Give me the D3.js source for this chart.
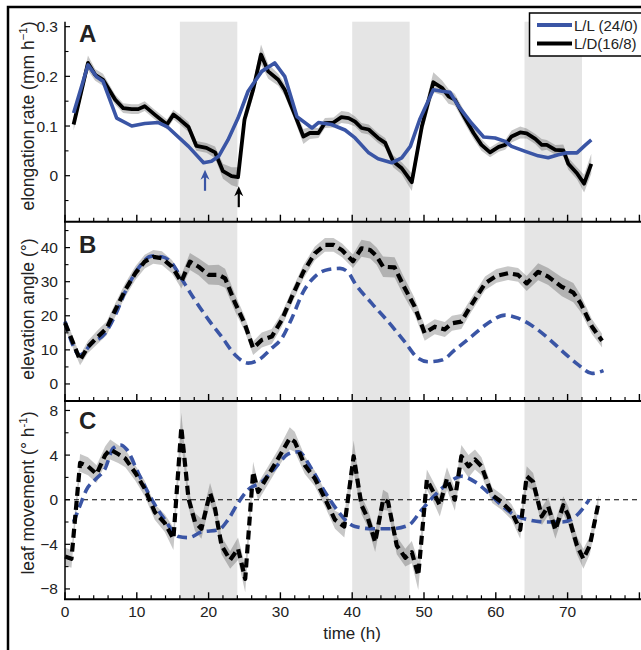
<!DOCTYPE html>
<html><head><meta charset="utf-8">
<script src="https://cdn.jsdelivr.net/npm/d3@7"></script>
<style>body{margin:0;background:#fff}svg{display:block;font-family:"Liberation Sans",Arial,Helvetica,sans-serif}</style>
</head><body><svg id="c" width="641" height="650"></svg>
<script>
// ---- data ----
const darkPeriods = [[16,24],[40,48],[64,72]];
const xTickLabels = [0,10,20,30,40,50,60,70];
const seriesNames = ["L/L (24/0)","L/D(16/8)"];

// Panel A: elongation rate (mm h-1)
const ldTimeA = [1.2,3.2,4.2,5.3,7,8.1,9.3,10.2,11.1,12.5,14.2,15.1,16,17.2,18.3,19.7,20.9,22,23.2,24.1,25,26.2,27.3,28.3,29.7,30.6,32,33.2,34.1,35.3,36.2,37.4,38.5,39.5,40.4,41.3,42.3,43.6,44.6,45.7,46.9,48.3,49.7,51.3,52.5,53.4,54.3,55.7,56.9,58,59.2,60.4,61.3,62.2,63.4,64.3,65.5,66.4,67.1,68.3,69.4,70.1,71.3,72.3,73.3];
const ldRateA = [0.103,0.227,0.203,0.193,0.153,0.136,0.134,0.134,0.14,0.123,0.103,0.123,0.113,0.098,0.06,0.056,0.047,0.009,-0.001,-0.003,0.113,0.173,0.244,0.21,0.193,0.173,0.123,0.079,0.086,0.086,0.106,0.107,0.118,0.116,0.109,0.096,0.093,0.076,0.066,0.029,0.015,-0.013,0.099,0.188,0.177,0.16,0.153,0.116,0.086,0.062,0.047,0.058,0.062,0.079,0.087,0.085,0.074,0.062,0.062,0.052,0.051,0.024,0.005,-0.016,0.024];
const ldErrA = [0.012,0.015,0.012,0.012,0.01,0.01,0.01,0.01,0.01,0.01,0.01,0.01,0.01,0.01,0.01,0.01,0.012,0.015,0.018,0.02,0.015,0.015,0.02,0.015,0.012,0.012,0.012,0.015,0.012,0.01,0.01,0.01,0.012,0.012,0.01,0.01,0.01,0.01,0.01,0.012,0.012,0.018,0.015,0.02,0.015,0.015,0.012,0.012,0.012,0.012,0.01,0.01,0.01,0.012,0.012,0.01,0.01,0.012,0.01,0.01,0.012,0.012,0.012,0.018,0.02];
const llTimeA = [1.2,3.2,4.4,5.3,7.2,9.3,11.1,13,14.2,17.2,19.3,20.4,21.4,22.7,24.1,25.5,27.4,29.2,30.6,32.3,34.4,35.3,37.1,39,40.4,42.3,43.6,45.5,46.9,48.1,49.4,51.3,52.5,53.6,54.8,56.6,58.3,59.9,61.3,62.2,64.1,65.9,67.3,68.7,69.9,71.3,72.5,73.3];
const llRateA = [0.126,0.223,0.199,0.19,0.116,0.1,0.105,0.107,0.099,0.059,0.026,0.029,0.039,0.072,0.116,0.17,0.21,0.227,0.2,0.119,0.096,0.107,0.103,0.092,0.076,0.046,0.034,0.026,0.036,0.059,0.113,0.173,0.17,0.168,0.14,0.106,0.078,0.076,0.069,0.059,0.049,0.04,0.036,0.042,0.046,0.046,0.062,0.072];
const minimaA = [{t:19.5, v:0.026, series:0},{t:24.2, v:-0.003, series:1}];

// Panel B: elevation angle (deg)
const ldTimeB = [0,2.1,3.2,4.6,5.8,7,8.4,9.8,11.1,12.3,13.5,14.9,16.2,17.4,18.6,20,21.4,22.3,23.7,25,26.2,27.4,28.8,30.2,31.6,33.2,34.8,36.2,37.4,38.6,40.1,41.3,42.5,43.4,44.3,45.9,47.1,48.7,50.1,51.5,52.9,53.9,55.2,56.6,58.5,60.1,61.7,63.1,64.3,65.9,67.3,69.2,70.8,71.8,73.4,74.8];
const ldAngleB = [17.9,7.0,10.9,13.9,16.3,21.7,27.6,32.5,35.9,37.3,36.9,34.4,30.0,35.9,34.4,32,32,31,23.7,17.8,10.5,12.9,13.9,18.8,25.6,32.9,38.3,40.8,40.8,39.2,36.0,39.8,39.3,37.5,34.4,34.2,29,22.7,14.9,16.8,16.0,17.8,18.3,23.2,29.5,31.7,32.5,32,29.5,32.9,31.5,28.5,26.8,23.7,16.8,12.7];
const ldErrB = [1.8,1.5,1.8,2,2,2,2,2,2,2,2,2,2,2.5,2.5,2.8,3,2.8,2.5,2.2,2,2.2,2.2,2,2,2,2,2,2,2,2,2.5,2.5,2.5,3,3,2.8,2.5,2.2,2.2,2.2,2.2,2.2,2,2,2,2,2,2.2,2.5,2.5,2.8,2.8,2.5,2.2,2];
const llTimeB = [0,2.1,3.7,5.6,7,8.4,10.2,12.1,13.5,14.9,16.2,18.1,20,21.8,23.7,25.5,26.9,28.8,30.2,31.6,33.2,34.8,36.7,38.3,39.5,40.4,42.7,45,47.3,49.2,50.6,52.5,54.3,56.6,58.9,61.3,63.1,64.9,67.3,69.6,71.5,73.4,75];
const llAngleB = [18.3,8.5,11.9,14.9,20.2,27.1,33.9,37.5,37.3,35.4,31,24.6,18.8,13.9,8.5,6.1,7.0,10.5,13.4,19.3,27.1,31.5,33.6,33.9,32.6,29.5,23.7,18.3,12.4,7.5,6.5,7.0,10,13.9,17.8,20.2,19.3,17.3,13.4,9.0,5.6,3.1,3.9];

// Panel C: leaf movement (deg h-1)
const ldTimeC = [0,0.9,2.1,3.2,4.4,5.6,6.3,7.4,8.4,9.8,11.1,12.5,13.9,15.1,16.2,17.2,18.1,19,20.2,20.9,21.8,23,24.1,25.1,26.2,26.9,28.3,29.7,31.3,32,33.4,34.8,36.2,37.6,38.9,40.2,41.3,42.2,43.2,44.3,45,46.2,47.4,48.3,49.2,50.4,51.3,52.2,53.2,54.3,55.2,56.2,57.1,58,59.5,60.8,62.2,63.4,64.3,65.2,66.4,67.3,68.3,69.4,70.1,71.3,72.2,73.1,74.3];
const ldMoveC = [-5.1,-5.3,3.3,3.0,2.3,4.0,4.5,4.1,3.7,2.4,1.0,-1.1,-2.1,-3.5,6.5,0.1,-2.0,-2.6,0.6,-0.8,-4.1,-5.4,-4.4,-7.1,2.5,0.7,2.2,3.7,5.5,5.2,3.1,1.9,0.1,-1.8,-2.4,3.9,-0.5,-1.7,-3.8,0,-0.2,-4.1,-5.2,-4.7,-6.8,1.8,0.7,-0.5,1.9,0,3.9,3.0,3.6,3.0,0.4,-0.2,-1.1,-2.7,2.1,1.6,-1.5,-0.6,-2.7,-0.5,-1.4,-4.1,-5.3,-4.1,-0.3];
const ldErrC = [0.8,0.8,0.8,0.8,0.8,0.8,0.9,0.8,0.8,0.7,0.7,0.7,0.8,1.0,1.3,0.8,0.8,0.9,0.9,0.8,0.8,0.8,1.0,1.2,0.9,0.8,0.8,0.8,1.0,0.9,0.8,0.7,0.7,0.8,1.0,1.4,0.8,0.8,0.9,0.9,0.8,0.8,0.8,1.0,1.3,0.9,0.9,1.0,1.0,1.0,1.0,1.0,0.9,0.8,0.7,0.7,0.7,0.8,0.9,0.8,0.8,0.8,0.8,0.8,0.8,0.8,0.9,0.8,0.7];
const llTimeC = [1.2,2.1,3,4.2,5.6,6.7,7.7,8.6,10.2,12.1,13.9,15.8,17.2,19,21.4,22.7,24.1,25.5,27.4,29.2,31.1,32.5,34.4,36.2,38.1,39.5,40.4,42.7,45.5,47.8,49.7,51.5,53.4,55.2,57.1,59,60.8,62.7,64.5,66.9,69.2,71.1,73];
const llMoveC = [-2.0,-0.5,0.9,1.8,2.8,4.6,4.9,4.5,2.4,0,-1.8,-3.3,-3.4,-2.9,-2.7,-1.8,-0.3,0.9,1.6,2.8,4.1,4.3,2.7,0.7,-1.1,-2.1,-2.4,-2.6,-2.6,-2.3,-0.9,0.4,1.5,2.1,1.6,0.6,-0.5,-1.4,-1.8,-2.0,-2.0,-1.5,0];

// ---- drawing ----
const svg = d3.select("#c");
const BLUE = "#3a55a5", SHADE = "#e5e5e5", BAND = "rgba(0,0,0,0.22)", TXT = "#222";
const x = d3.scaleLinear().domain([0,80]).range([65,639.4]);
const panels = [
  {key:"A", y:d3.scaleLinear().domain([-0.0926,0.31]).range([221.7,21.7]), major:[0,0.1,0.2,0.3], minor:[-0.05,0.05,0.15,0.25], fmt:d=>d===0?"0":d3.format(".1f")(d)},
  {key:"B", y:d3.scaleLinear().domain([-5,47.6]).range([401,221.7]), major:[0,10,20,30,40], minor:[5,15,25,35,45], fmt:d=>String(d)},
  {key:"C", y:d3.scaleLinear().domain([-8.93,8.85]).range([599.3,401]), major:[-8,-4,0,4,8], minor:[-6,-2,2,6], fmt:d=>d<0?"\u2212"+Math.abs(d):String(d)}
];

// shading
panels.forEach(p=>{
  const [y0,y1] = p.y.range();
  svg.append("g").selectAll("rect").data(darkPeriods).join("rect")
    .attr("x",d=>x(d[0])).attr("width",d=>x(d[1])-x(d[0]))
    .attr("y",y1).attr("height",y0-y1).attr("fill",SHADE);
});

function zip(ts, vs, es){ return ts.map((t,i)=>({t, v:vs[i], e: es? es[i]:0})); }
function band(p, data){
  svg.append("path").datum(data)
    .attr("d", d3.area().x(d=>x(d.t)).y0(d=>p.y(d.v-d.e)).y1(d=>p.y(d.v+d.e)))
    .attr("fill",BAND);
}
function line(p, data, color, width, dash, curve){
  svg.append("path").datum(data)
    .attr("d", d3.line().x(d=>x(d.t)).y(d=>p.y(d.v)).curve(curve||d3.curveLinear))
    .attr("fill","none").attr("stroke",color).attr("stroke-width",width)
    .attr("stroke-dasharray",dash||null).attr("stroke-linejoin","round");
}

// Panel A
const [pA,pB,pC] = panels;
band(pA, zip(ldTimeA, ldRateA, ldErrA));
line(pA, zip(ldTimeA, ldRateA), "#000", 3.8);
line(pA, zip(llTimeA, llRateA), BLUE, 3.6);

// arrows
minimaA.forEach(m=>{
  const cx = x(m.t), color = m.series===0?BLUE:"#000";
  const tip = m.series===0 ? pA.y(m.v)+7 : pA.y(m.v)+9;
  const g = svg.append("g");
  g.append("line").attr("x1",cx).attr("x2",cx).attr("y1",tip+4).attr("y2",tip+21)
    .attr("stroke",color).attr("stroke-width",2.2);
  g.append("path").attr("d",`M${cx},${tip} L${cx+4.5},${tip+10} L${cx},${tip+7} L${cx-4.5},${tip+10} Z`).attr("fill",color);
});

// Panel B
band(pB, zip(ldTimeB, ldAngleB, ldErrB));
line(pB, zip(llTimeB, llAngleB), BLUE, 3.6, "10,5.5", d3.curveMonotoneX);
line(pB, zip(ldTimeB, ldAngleB), "#000", 4.2, "9,5");

// Panel C
svg.append("line").attr("x1",65).attr("x2",639.4).attr("y1",pC.y(0)).attr("y2",pC.y(0))
  .attr("stroke","#000").attr("stroke-width",1.1).attr("stroke-dasharray","5,4");
band(pC, zip(ldTimeC, ldMoveC, ldErrC));
line(pC, zip(llTimeC, llMoveC), BLUE, 3.6, "10,5.5", d3.curveMonotoneX);
line(pC, zip(ldTimeC, ldMoveC), "#000", 4.2, "9,5");

// axes
const allMajorX = d3.range(0,81,10), allMinorX = d3.range(0,81,2).filter(d=>d%10!==0);
panels.forEach((p,i)=>{
  const yb = p.y.range()[0];
  const gx = svg.append("g");
  gx.selectAll(".mj").data(allMajorX).join("line").attr("x1",d=>x(d)).attr("x2",d=>x(d))
    .attr("y1",yb).attr("y2",yb-7).attr("stroke","#000").attr("stroke-width",1.4);
  gx.selectAll(".mn").data(allMinorX).join("line").attr("x1",d=>x(d)).attr("x2",d=>x(d))
    .attr("y1",yb).attr("y2",yb-4).attr("stroke","#000").attr("stroke-width",1.2);
  gx.append("line").attr("x1",64).attr("x2",641).attr("y1",yb).attr("y2",yb).attr("stroke","#000").attr("stroke-width",2);
  const gy = svg.append("g");
  gy.selectAll(".mj").data(p.major).join("line").attr("x1",65).attr("x2",70)
    .attr("y1",d=>p.y(d)).attr("y2",d=>p.y(d)).attr("stroke","#000").attr("stroke-width",1.2);
  gy.selectAll(".mn").data(p.minor).join("line").attr("x1",65).attr("x2",68.5)
    .attr("y1",d=>p.y(d)).attr("y2",d=>p.y(d)).attr("stroke","#000").attr("stroke-width",1.1);
  gy.selectAll("text").data(p.major).join("text").attr("x",58).attr("y",d=>p.y(d)+5.5)
    .attr("text-anchor","end").attr("font-size",15.5).attr("fill",TXT).text(p.fmt);
  svg.append("text").attr("x",79).attr("y",[42,253,429][i]).attr("font-size",24)
    .attr("font-weight","bold").attr("fill","#222").text(p.key);
});
svg.append("line").attr("x1",65).attr("x2",65).attr("y1",21.7).attr("y2",600).attr("stroke","#000").attr("stroke-width",1.5);

// x tick labels and title
svg.append("g").selectAll("text").data(xTickLabels).join("text")
  .attr("x",d=>x(d)).attr("y",617).attr("text-anchor","middle").attr("font-size",15.5).attr("fill",TXT).text(d=>d);
svg.append("text").attr("x",352).attr("y",639).attr("text-anchor","middle").attr("font-size",17).attr("fill",TXT).text("time (h)");

// y titles
function ytitle(cy, parts){
  const t = svg.append("text").attr("transform",`translate(34,${cy}) rotate(-90)`)
    .attr("text-anchor","middle").attr("font-size",17.5).attr("fill",TXT);
  parts.forEach(pp=>{
    const s = t.append("tspan").text(pp.s);
    if(pp.sup){ s.attr("font-size",11.5).attr("dy",-7); }
    if(pp.after){ s.attr("dy",7); }
  });
}
ytitle(116, [{s:"elongation rate (mm h"},{s:"\u22121",sup:true},{s:")",after:true}]);
ytitle(309, [{s:"elevation angle (\u00b0)"}]);
ytitle(493, [{s:"leaf movement (\u00b0 h"},{s:"-1",sup:true},{s:")",after:true}]);

// legend
const lg = svg.append("g");
lg.append("rect").attr("x",529.5).attr("y",13).attr("width",130).attr("height",43)
  .attr("fill","#fff").attr("stroke","#000").attr("stroke-width",1.5);
[BLUE,"#000"].forEach((c,i)=>{
  const yy = 25 + i*18.5;
  lg.append("line").attr("x1",537).attr("x2",572).attr("y1",yy).attr("y2",yy).attr("stroke",c).attr("stroke-width",3.8);
  lg.append("text").attr("x",574).attr("y",yy+5.5).attr("font-size",15).attr("fill",TXT).text(seriesNames[i]);
});

// frame
svg.append("path").attr("d","M8,652 L8,7 L645,7").attr("fill","none").attr("stroke","#000").attr("stroke-width",2.5);
</script></body></html>
